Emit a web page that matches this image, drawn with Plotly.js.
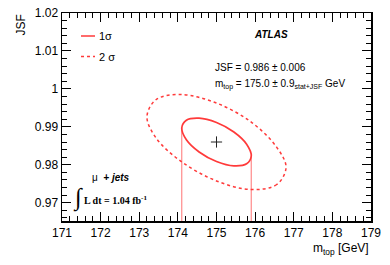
<!DOCTYPE html>
<html><head><meta charset="utf-8">
<script src="https://cdn.plot.ly/plotly-3.0.1.min.js"></script>
<style>html,body{margin:0;padding:0;background:#fff}#chart{width:390px;height:265px}</style>
</head><body><div id="chart"></div>
<script>
// best-fit point
const bestMtop = [175.0];
const bestJSF = [0.986];
// 1 sigma contour
const c1Mtop = [175.90,175.78,175.45,175.00,174.55,174.22,174.10,174.22,174.55,175.00,175.45,175.78,175.90];
const c1JSF  = [0.98230,0.98027,0.97973,0.98087,0.98338,0.98660,0.98965,0.99173,0.99227,0.99113,0.98862,0.98540,0.98230];
// 2 sigma contour
const c2Mtop = [176.80,176.56,175.90,175.00,174.10,173.44,173.20,173.44,174.10,175.00,175.90,176.56,176.80];
const c2JSF  = [0.97930,0.97480,0.97346,0.97574,0.98076,0.98700,0.99270,0.99720,0.99850,0.99626,0.99124,0.98460,0.97930];
// 1 sigma projection lines
const projMtop = [174.10, 175.90];
const projTop  = [0.98970, 0.98220];
const xRange = [171, 179];
const yRange = [0.96518, 1.02];
const yTickVals = [0.97, 0.98, 0.99, 1.00, 1.01, 1.02];
const yTickText = ['0.97','0.98','0.99','1','1.01','1.02'];
const xTickVals = [171,172,173,174,175,176,177,178,179];

const red = '#ff3a3a';
const pink = '#ff8a8a';
const font = 'Liberation Sans, Arial, sans-serif';

const traces = [];
for (let i = 0; i < projMtop.length; i++) {
  traces.push({x:[projMtop[i], projMtop[i]], y:[projTop[i], yRange[0]], mode:'lines',
    line:{color:pink, width:1.2}, hoverinfo:'skip', showlegend:false});
}
traces.push({x:c2Mtop, y:c2JSF, mode:'lines', line:{color:red, width:1.5, dash:'dot', shape:'spline'}, showlegend:false});
traces.push({x:c1Mtop, y:c1JSF, mode:'lines', line:{color:red, width:1.7, shape:'spline'}, showlegend:false});
traces.push({x:bestMtop, y:bestJSF, mode:'markers', marker:{symbol:'cross-thin', size:8, line:{color:'#222', width:1}}, showlegend:false});

const axisCommon = {showline:true, linecolor:'#000', linewidth:1.5, mirror:'allticks', ticks:'inside',
  tickcolor:'#000', tickwidth:1, ticklen:9, showgrid:false, zeroline:false,
  tickfont:{family:font, size:12, color:'#000'}, fixedrange:true};

const layout = {
  width:390, height:265, margin:{l:62, r:19, t:13, b:44}, paper_bgcolor:'#fff', plot_bgcolor:'#fff',
  xaxis: Object.assign({}, axisCommon, {range:xRange, tickvals:xTickVals,
    minor:{ticks:'inside', dtick:0.2, ticklen:5, tickcolor:'#000', tickwidth:1}}),
  yaxis: Object.assign({}, axisCommon, {range:yRange, tickvals:yTickVals, ticktext:yTickText,
    minor:{ticks:'inside', dtick:0.002, tick0:0.97, ticklen:5, tickcolor:'#000', tickwidth:1}}),
  shapes:[
    {type:'line', xref:'paper', yref:'paper', x0:(81-62)/309, x1:(95-62)/309, y0:(221-36)/208, y1:(221-36)/208, line:{color:red, width:1.5}},
    {type:'line', xref:'paper', yref:'paper', x0:(81-62)/309, x1:(95-62)/309, y0:(221-56.5)/208, y1:(221-56.5)/208, line:{color:red, width:1.5, dash:'dot'}}
  ],
  annotations:[
    {xref:'paper', yref:'paper', x:(97-62)/309, y:(221-36)/208, xanchor:'left', yanchor:'middle', showarrow:false, text:'1σ', font:{family:font, size:11, color:'#000'}},
    {xref:'paper', yref:'paper', x:(97-62)/309, y:(221-56.5)/208, xanchor:'left', yanchor:'middle', showarrow:false, text:'2 σ', font:{family:font, size:11, color:'#000'}},
    {xref:'paper', yref:'paper', x:(271-62)/309, y:(221-35)/208, xanchor:'center', yanchor:'middle', showarrow:false, text:'<b><i>ATLAS</i></b>', font:{family:font, size:10, color:'#000'}},
    {xref:'paper', yref:'paper', x:(213-62)/309, y:(221-68)/208, xanchor:'left', yanchor:'middle', showarrow:false, text:'JSF = 0.986 ± 0.006', font:{family:font, size:10, color:'#000'}},
    {xref:'paper', yref:'paper', x:(213-62)/309, y:(221-84)/208, xanchor:'left', yanchor:'middle', showarrow:false, text:'m<sub>top</sub> = 175.0 ± 0.9<sub>stat+JSF</sub> GeV', font:{family:font, size:10, color:'#000'}},
    {xref:'paper', yref:'paper', x:(90-62)/309, y:(221-177.5)/208, xanchor:'left', yanchor:'middle', showarrow:false, text:'μ  <b><i>+ jets</i></b>', font:{family:font, size:10, color:'#000'}},
    {xref:'paper', yref:'paper', x:(71-62)/309, y:(221-198)/208, xanchor:'left', yanchor:'middle', showarrow:false, text:'∫', font:{family:'Liberation Serif, serif', size:24, color:'#000'}},
    {xref:'paper', yref:'paper', x:(82-62)/309, y:(221-200)/208, xanchor:'left', yanchor:'middle', showarrow:false, text:'<b>L dt = 1.04 fb<sup>-1</sup></b>', font:{family:'Liberation Serif, serif', size:10, color:'#000'}},
    {xref:'paper', yref:'paper', x:1, y:(221-249)/208, xanchor:'right', yanchor:'middle', showarrow:false, text:'m<sub>top</sub> [GeV]', font:{family:font, size:12, color:'#000'}},
    {xref:'paper', yref:'paper', x:(20-62)/309, y:1, xanchor:'center', yanchor:'top', textangle:-90, showarrow:false, text:'JSF', font:{family:font, size:12, color:'#000'}}
  ]
};
Plotly.newPlot('chart', traces, layout, {displayModeBar:false, staticPlot:true});
</script></body></html>
